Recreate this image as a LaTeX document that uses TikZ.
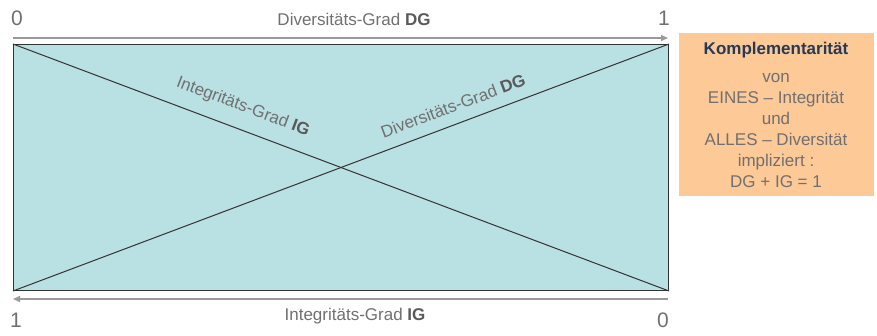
\documentclass[tikz,border=0pt]{standalone}
\usepackage{fontspec}
\setmainfont{Liberation Sans}
\usetikzlibrary{arrows.meta}
\definecolor{boxfill}{HTML}{B9E0E3}
\definecolor{orangefill}{HTML}{FDC997}
\definecolor{titleblue}{HTML}{263A55}
\definecolor{txtgray}{HTML}{707070}
\definecolor{boldgray}{HTML}{5A5A5A}
\definecolor{arrgray}{HTML}{9A9A9A}
\definecolor{linedark}{HTML}{333333}
\tikzset{
  lbl/.style={text=txtgray, font=\fontsize{17}{20}\selectfont, inner sep=0pt},
  digit/.style={text=txtgray, font=\fontsize{21}{24}\selectfont, inner sep=0pt},
  axis/.style={draw=arrgray, line width=1.3pt, -{Triangle[length=7pt,width=6pt]}},
  diag/.style={draw=linedark, line width=1pt},
}
\newcommand{\bgr}[1]{\textcolor{boldgray}{\bfseries #1}}
\begin{document}
\begin{tikzpicture}[x=1pt,y=1pt]
\useasboundingbox (0,0) rectangle (877,335);
% main rectangle
\node[draw=linedark, line width=1pt, fill=boxfill, minimum width=655pt, minimum height=246pt,
      inner sep=0pt, anchor=south west] (R) at (13,44) {};
\draw[diag] (R.north west) -- (R.south east);
\draw[diag] (R.south west) -- (R.north east);
% diagonal labels
\node[lbl, rotate=-20.6] (dIG) at (243,228) {Integritäts-Grad \bgr{IG}};
\node[lbl, rotate=20.6] (dDG) at (453,229) {Diversitäts-Grad \bgr{DG}};
% top axis
\coordinate (t0) at (13,297);
\coordinate (t1) at (668,297);
\draw[axis] (t0) -- (t1);
\node[digit] (z0) at (17,317) {0};
\node[digit] (o1) at (664,317) {1};
\node[lbl] (tDG) at (354,316) {Diversitäts-Grad \bgr{DG}};
% bottom axis
\coordinate (b0) at (668,36);
\coordinate (b1) at (13,36);
\draw[axis] (b0) -- (b1);
\node[digit] (o1b) at (16,15) {1};
\node[digit] (z0b) at (663,15) {0};
\node[lbl] (bIG) at (355,19) {Integritäts-Grad \bgr{IG}};
% orange box
\node[fill=orangefill, minimum width=195pt, minimum height=163pt, inner sep=0pt,
      anchor=south west] (K) at (679,139) {};
\node[text=titleblue, font=\fontsize{17}{20}\selectfont\bfseries, inner sep=0pt] (Kt) at (776,285) {Komplementarität};
\node[text=txtgray, font=\fontsize{17}{21}\selectfont, align=center, inner sep=0pt, anchor=north] (Kb) at (776,262)
  {von\\EINES -- Integrität\\und\\ALLES -- Diversität\\impliziert :\\DG + IG = 1};
\end{tikzpicture}
\end{document}
